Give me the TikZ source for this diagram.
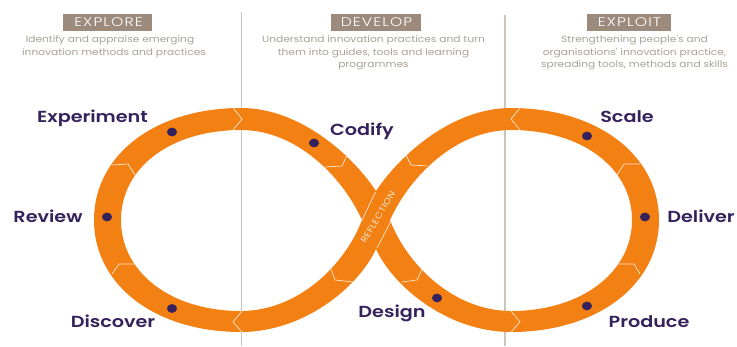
\documentclass[tikz,border=0pt]{standalone}
\usetikzlibrary{shapes.geometric}
\usepackage{fontspec}
\setmainfont{Poppins}
\newfontfamily\labfont{Poppins}[UprightFont=* SemiBold,FakeStretch=1.2]
\newfontfamily\descfont{Poppins}[FakeStretch=1.17]
\newfontfamily\headfont{Poppins}[UprightFont=* Light,FakeStretch=1.25,LetterSpace=9]
\newfontfamily\reflfont{Poppins}[FakeStretch=1.15,LetterSpace=4]
\definecolor{bandorange}{HTML}{F28013}
\definecolor{deeppurple}{HTML}{35215C}
\definecolor{taupe}{HTML}{9C8B7C}
\definecolor{desctext}{HTML}{ACA095}
\definecolor{rulegrey}{HTML}{CCC5BE}
\definecolor{seamcol}{HTML}{FCE6CE}
\tikzset{
  headbox/.style={fill=taupe,minimum height=17pt,inner sep=0pt,anchor=center},
  headtext/.style={text=white,font=\headfont\fontsize{12.5}{13}\selectfont,inner sep=0pt,anchor=base},
  desc/.style={text=desctext,font=\descfont\fontsize{9.1}{10}\selectfont,inner sep=0pt,anchor=base},
  lab/.style={text=deeppurple,font=\labfont\fontsize{16}{17}\selectfont,inner sep=0pt,anchor=base},
  seam/.style={draw=seamcol,line width=0.7pt,line join=miter},
  guide/.style={draw=rulegrey,line width=1.4pt},
  dotmark/.style={ellipse,fill=deeppurple,inner sep=0pt,minimum width=10pt,minimum height=8.8pt}
}
\begin{document}
\begin{tikzpicture}[x=1pt,y=-1pt]
\useasboundingbox (0,0) rectangle (737,346);
% guides
\coordinate (g1t) at (241.5,12); \coordinate (g1b) at (241.5,346);
\coordinate (g2t) at (505,15); \coordinate (g2b) at (505,346);
\draw[guide] (g1t) -- (g1b);
\draw[guide] (g2t) -- (g2b);
% band
\fill[bandorange,even odd rule]
 (376,191) .. controls (352,155) and (300,108) .. (241,108)
 .. controls (155,108) and (94,155) .. (94,220)
 .. controls (94,285) and (155,332) .. (241,332)
 .. controls (303,332) and (358,288) .. (376,249)
 .. controls (394,288) and (449,332) .. (511,332)
 .. controls (597,332) and (659,285) .. (659,220)
 .. controls (659,155) and (597,108) .. (511,108)
 .. controls (452,108) and (400,155) .. cycle
 (362,220) .. controls (342,176) and (296,130) .. (241,130)
 .. controls (170,130) and (121,168) .. (121,220)
 .. controls (121,272) and (170,311) .. (241,311)
 .. controls (298,311) and (345,265) .. cycle
 (390,220) .. controls (410,176) and (456,130) .. (511,130)
 .. controls (582,130) and (632,168) .. (632,220)
 .. controls (632,272) and (582,311) .. (511,311)
 .. controls (454,311) and (407,265) .. cycle;
% seams
\draw[seam] (233,108) -- (242,119) -- (233,130);
\draw[seam] (242,311) -- (233,322) -- (242,332);
\draw[seam] (520,108) -- (511,119) -- (520,130);
\draw[seam] (511,311) -- (520,322) -- (511,332);
\draw[seam] (112,165) -- (128,164) -- (135,175);
\draw[seam] (112,274) -- (119,264) -- (135,264);
\draw[seam] (347,155) -- (342,166) -- (325,167);
\draw[seam] (406,155) -- (411,165) -- (427,166);
\draw[seam] (640,164) -- (624,164) -- (617,175);
\draw[seam] (617,264) -- (634,264) -- (640,274);
\draw[seam] (331,269) -- (335,280) -- (353,282);
\draw[seam] (422,269) -- (417,280) -- (402,282);
\draw[seam] (375.5,192) -- (362,220);
\draw[seam] (391,221) -- (377,248);
% reflection
\node[text=seamcol,font=\reflfont\fontsize{8.6}{9}\selectfont,inner sep=0pt,rotate=59] (refl) at (378,217) {REFLECTION};
% dots
\node[dotmark] (d1) at (172,132) {};
\node[dotmark] (d2) at (314,143) {};
\node[dotmark] (d3) at (107,217) {};
\node[dotmark] (d4) at (172,308.5) {};
\node[dotmark] (d5) at (437,298) {};
\node[dotmark] (d6) at (587,136) {};
\node[dotmark] (d7) at (645,217) {};
\node[dotmark] (d8) at (587,306) {};
% labels
\node[lab] (l1) at (92.5,122.5) {Experiment};
\node[lab] (l2) at (362,135) {Codify};
\node[lab] (l3) at (627,122.5) {Scale};
\node[lab] (l4) at (48,222.5) {Review};
\node[lab] (l5) at (701,222.5) {Deliver};
\node[lab] (l6) at (113,327) {Discover};
\node[lab] (l7) at (392,317) {Design};
\node[lab] (l8) at (649,327) {Produce};
% headers
\node[headbox,minimum width=89pt] (h1) at (107.5,22.5) {};
\node[headbox,minimum width=90pt] (h2) at (376,22.5) {};
\node[headbox,minimum width=84pt] (h3) at (629,22.5) {};
\node[headtext] (t1) at (108.5,26.7) {EXPLORE};
\node[headtext] (t2) at (376.5,26.7) {DEVELOP};
\node[headtext] (t3) at (629.5,26.7) {EXPLOIT};
% descriptions
\node[desc] (a1) at (110,42) {Identify and appraise emerging};
\node[desc] (a2) at (114,55) {innovation methods and practices};
\node[desc] (b1) at (373.5,42) {Understand innovation practices and turn};
\node[desc] (b2) at (373.5,55) {them into guides, tools and learning};
\node[desc] (b3) at (373.5,67) {programmes};
\node[desc] (c1) at (634.5,42) {Strengthening people's and};
\node[desc] (c2) at (634.5,55) {organisations' innovation practice,};
\node[desc] (c3) at (634.5,67) {spreading tools, methods and skills};
\end{tikzpicture}
\end{document}
